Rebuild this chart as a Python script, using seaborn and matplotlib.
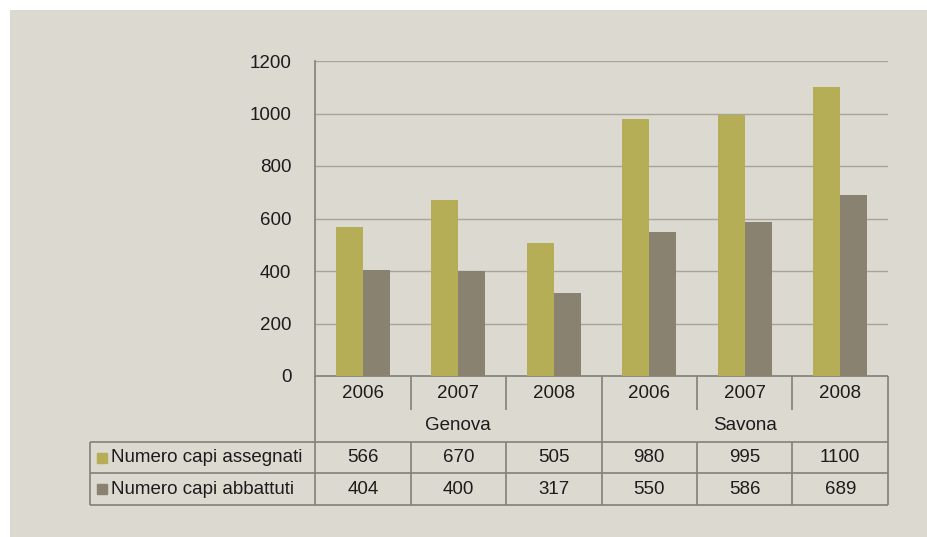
import pandas as pd
import matplotlib.pyplot as plt
import matplotlib.transforms as mtransforms
from matplotlib.patches import Rectangle
import seaborn as sns

# Data
provinces = ["Genova", "Savona"]
years = ["2006", "2007", "2008"]
series_names = ["Numero capi assegnati", "Numero capi abbattuti"]
assegnati = [566, 670, 505, 980, 995, 1100]
abbattuti = [404, 400, 317, 550, 586, 689]

categories = [f"{p} {y}" for p in provinces for y in years]
df = pd.DataFrame({
    "cat": categories * 2,
    "serie": [series_names[0]] * 6 + [series_names[1]] * 6,
    "valore": assegnati + abbattuti,
})

bg = "#dcd9d0"
olive = "#b5ae57"
taupe = "#8a8271"
line_c = "#838078"
text_c = "#1c1c1c"

sns.set_style("white")
plt.rcParams["font.family"] = ["Liberation Sans", "DejaVu Sans"]

fig = plt.figure(figsize=(9.28, 5.37), dpi=100)
fig.patch.set_facecolor(bg)
# thin white margin at top and left
fig.patches.append(Rectangle((0, 1 - 10 / 537), 1, 10 / 537, transform=fig.transFigure,
                             facecolor="white", edgecolor="none", zorder=-10))
fig.patches.append(Rectangle((0, 0), 10 / 928, 1, transform=fig.transFigure,
                             facecolor="white", edgecolor="none", zorder=-10))

ax = fig.add_axes([315 / 928, 161 / 537, 573 / 928, 315 / 537])
ax.set_facecolor(bg)

sns.barplot(data=df, x="cat", y="valore", hue="serie", palette=[olive, taupe],
            width=0.57, gap=0, saturation=1, ax=ax, legend=False, zorder=3,
            edgecolor="none", linewidth=0)

ax.set_ylim(0, 1200)
ax.set_xlim(-0.5, 5.5)
ax.set_yticks(range(0, 1201, 200))
ax.yaxis.grid(True, color="#a7a49c", lw=1)
ax.set_axisbelow(True)
ax.set_xticks([])
ax.set_xlabel("")
ax.set_ylabel("")
ax.tick_params(axis="y", length=0, pad=17, labelsize=13.5, labelcolor=text_c)
for s in ["top", "right", "bottom"]:
    ax.spines[s].set_visible(False)
ax.spines["left"].set_color(line_c)
ax.spines["left"].set_linewidth(1.2)

# Table under the chart
H = 315.0
def fy(px):
    # pixels below the x axis -> axes fraction
    return -px / H

tr = mtransforms.blended_transform_factory(ax.transData, ax.transAxes)
lk = dict(color=line_c, lw=1.2, clip_on=False, solid_capstyle="butt")
x_left = (90 - 315) / 573

y0, y_year, y_grp, y_r1, y_r2 = 0, fy(34), fy(66), fy(97), fy(129)

# horizontal lines
ax.plot([-0.5, 5.5], [y0, y0], transform=tr, **lk)
ax.plot([x_left, 1], [y_grp, y_grp], transform=ax.transAxes, **lk)
ax.plot([x_left, 1], [y_r1, y_r1], transform=ax.transAxes, **lk)
ax.plot([x_left, 1], [y_r2, y_r2], transform=ax.transAxes, **lk)
# vertical lines
ax.plot([0, 0], [y0, y_r2], transform=ax.transAxes, **lk)
ax.plot([1, 1], [y0, y_r2], transform=ax.transAxes, **lk)
ax.plot([x_left, x_left], [y_grp, y_r2], transform=ax.transAxes, **lk)
ax.plot([2.5, 2.5], [y0, y_r2], transform=tr, **lk)
for b in [0.5, 1.5, 3.5, 4.5]:
    ax.plot([b, b], [y0, y_year], transform=tr, **lk)
    ax.plot([b, b], [y_grp, y_r2], transform=tr, **lk)

fs = 13.5
for i, c in enumerate(categories):
    ax.text(i, (y0 + y_year) / 2, years[i % 3], transform=tr, ha="center",
            va="center", fontsize=fs, color=text_c)
    ax.text(i, (y_grp + y_r1) / 2, str(assegnati[i]), transform=tr, ha="center",
            va="center", fontsize=fs, color=text_c)
    ax.text(i, (y_r1 + y_r2) / 2, str(abbattuti[i]), transform=tr, ha="center",
            va="center", fontsize=fs, color=text_c)
for j, p in enumerate(provinces):
    ax.text(1 + 3 * j, fy(50), p, transform=tr, ha="center", va="center",
            fontsize=fs, color=text_c)

# legend cells
for name, col, yc in [(series_names[0], olive, (y_grp + y_r1) / 2),
                      (series_names[1], taupe, (y_r1 + y_r2) / 2)]:
    ax.plot([(102 - 315) / 573], [yc], marker="s", ms=6.5, color=col,
            transform=ax.transAxes, clip_on=False, lw=0)
    ax.text((111 - 315) / 573, yc, name, transform=ax.transAxes, ha="left",
            va="center", fontsize=fs, color=text_c)

fig.savefig("out.png", dpi=100, facecolor=fig.get_facecolor())
